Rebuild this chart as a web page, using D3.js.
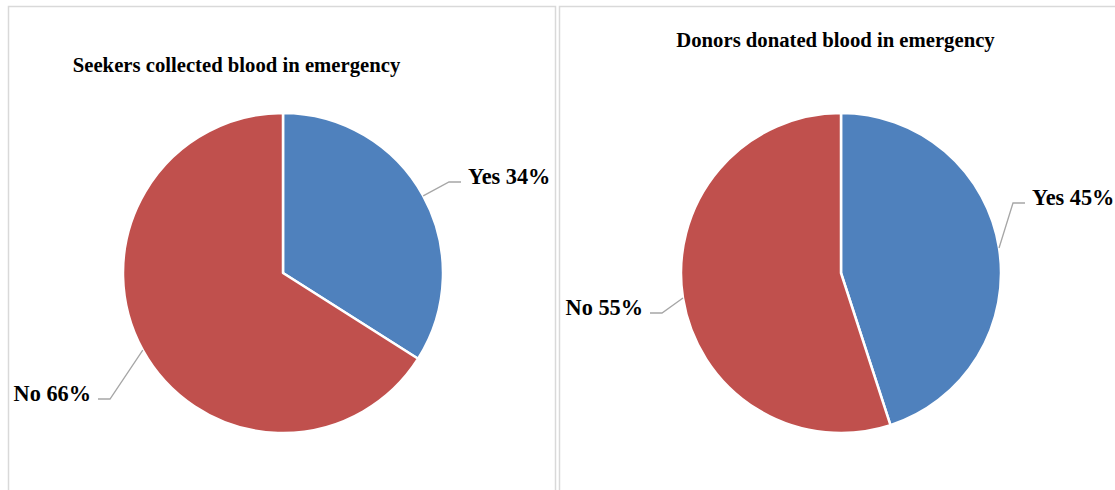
<!DOCTYPE html>
<html>
<head>
<meta charset="utf-8">
<script src="https://cdn.jsdelivr.net/npm/d3@7"></script>
<style>
  html, body { margin: 0; padding: 0; background: #fff; }
  svg { display: block; }
  text { font-family: "Liberation Serif", "Times New Roman", serif; font-weight: bold; fill: #000; }
</style>
</head>
<body>
<svg id="chart" width="1115" height="490"></svg>
<script>
// Survey answers, in percent
const categories = ["Yes", "No"];
const seekersValues = [34, 66];
const donorsValues = [45, 55];
const chartTitles = ["Seekers collected blood in emergency", "Donors donated blood in emergency"];
const sliceColors = ["#4F81BD", "#C0504D"];

const svg = d3.select("#chart");

// Two framed panels, each with a title and one pie
const panels = [
  { title: chartTitles[0], values: seekersValues, frame: [8.5, 6.5, 547, 500],
    cx: 283, cy: 273, titleX: 236.5, titleY: 72,
    // elbow of each leader line, relative to the pie centre
    elbows: [[166, -91], [-173, 126]] },
  { title: chartTitles[1], values: donorsValues, frame: [559.5, 6.5, 600, 500],
    cx: 841, cy: 273, titleX: 835.5, titleY: 46.5,
    elbows: [[172, -70], [-179, 40]] }
];

const radius = 160;
const pie = d3.pie().sort(null).value(d => d.value);
const arc = d3.arc().innerRadius(0).outerRadius(radius);
const color = d3.scaleOrdinal().domain(categories).range(sliceColors);

panels.forEach(p => {
  svg.append("rect")
    .attr("x", p.frame[0]).attr("y", p.frame[1])
    .attr("width", p.frame[2]).attr("height", p.frame[3])
    .attr("fill", "#fff").attr("stroke", "#D9D9D9").attr("stroke-width", 1.5);

  svg.append("text")
    .attr("x", p.titleX).attr("y", p.titleY)
    .attr("text-anchor", "middle")
    .style("font-size", "20.7px")
    .text(p.title);

  const data = categories.map((c, i) => ({ name: c, value: p.values[i] }));
  const arcs = pie(data);
  const g = svg.append("g").attr("transform", `translate(${p.cx},${p.cy})`);

  g.selectAll("path.slice")
    .data(arcs)
    .join("path")
    .attr("class", "slice")
    .attr("d", arc)
    .attr("fill", d => color(d.data.name))
    .attr("stroke", "#fff")
    .attr("stroke-width", 2.5)
    .attr("stroke-linejoin", "round");

  arcs.forEach((a, i) => {
    const mid = (a.startAngle + a.endAngle) / 2;
    const sx = radius * Math.sin(mid), sy = -radius * Math.cos(mid);
    const [ex, ey] = p.elbows[i];
    const side = ex >= 0 ? 1 : -1;
    const hx = ex + side * 12;
    g.append("path")
      .attr("d", `M${sx},${sy}L${ex},${ey}L${hx},${ey}`)
      .attr("fill", "none")
      .attr("stroke", "#A6A6A6")
      .attr("stroke-width", 1.3);
    g.append("text")
      .attr("x", hx + side * 7)
      .attr("y", ey + 1.5)
      .attr("text-anchor", side > 0 ? "start" : "end")
      .style("font-size", "22.3px")
      .text(`${a.data.name} ${a.data.value}%`);
  });
});
</script>
</body>
</html>
